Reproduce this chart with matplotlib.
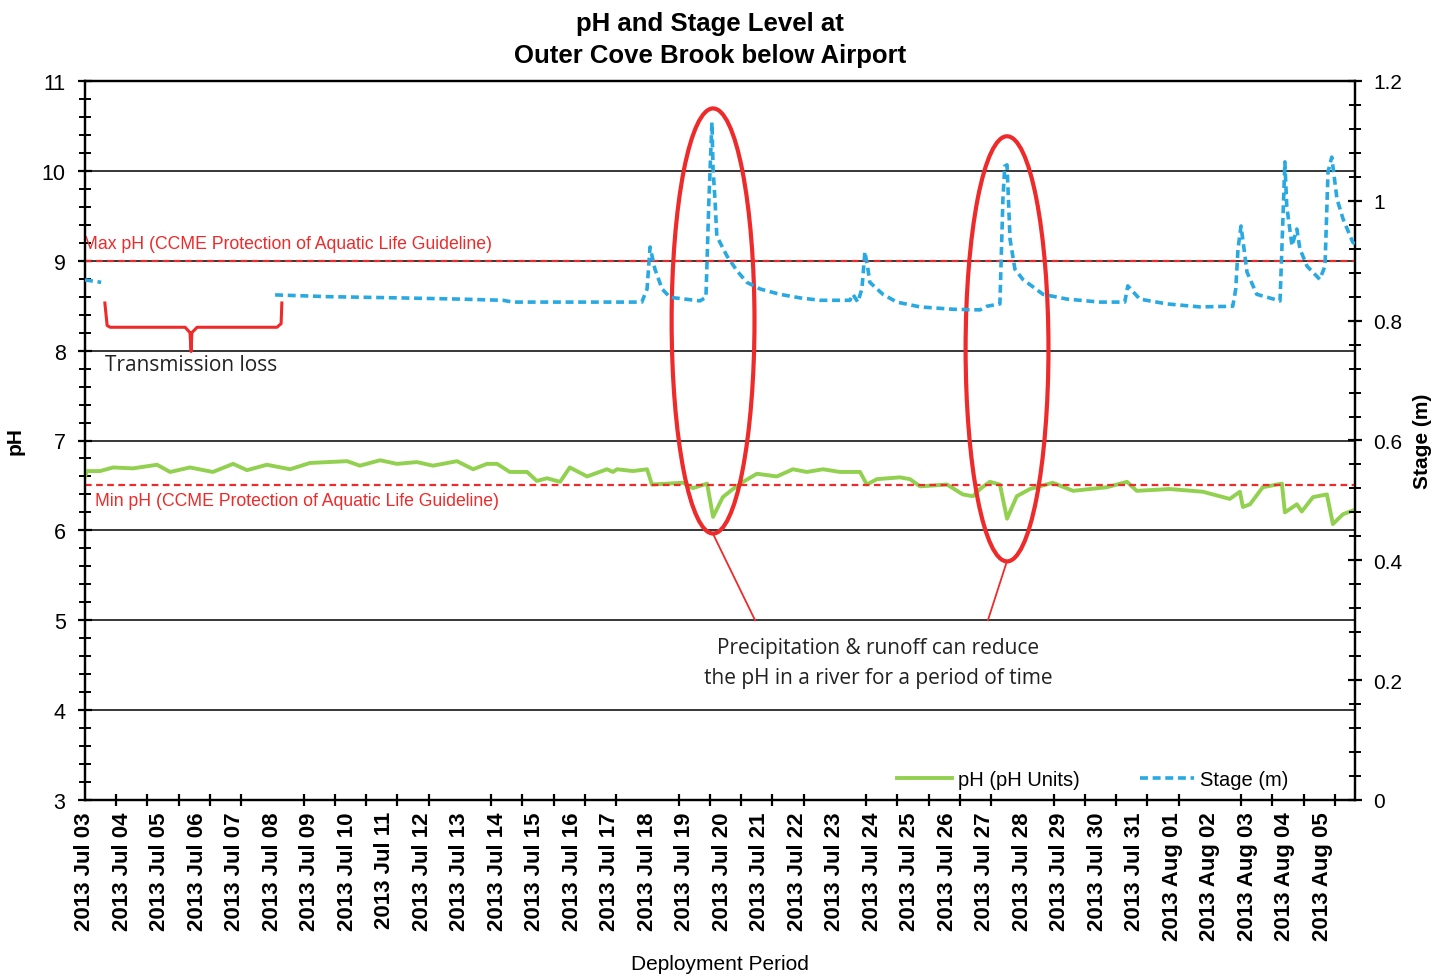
import matplotlib
matplotlib.use("Agg")
import matplotlib.pyplot as plt
import matplotlib.dates as mdates
from matplotlib.patches import Ellipse
from matplotlib.ticker import MultipleLocator
from datetime import datetime, timedelta
import numpy as np

plt.rcParams['font.family'] = ['Liberation Sans', 'DejaVu Sans']

start = datetime(2013, 7, 3)

# pH series: day offsets from 2013-07-03 00:00 and values
ph_days = [0, 0.05, 0.40, 0.75, 1.28, 1.92, 2.27, 2.80, 3.41, 3.95, 4.32, 4.85, 5.47, 6.00,
           6.99, 7.33, 7.87, 8.32, 8.85, 9.28, 9.92, 10.35, 10.72, 10.99, 11.33, 11.79, 12.05,
           12.32, 12.67, 12.93, 13.39, 13.92, 14.08, 14.19, 14.61, 14.99, 15.12, 15.95, 16.21,
           16.59, 16.75, 17.01, 17.28, 17.55, 17.92, 18.45, 18.88, 19.25, 19.68, 20.13, 20.67,
           20.85, 21.12, 21.73, 22.00, 22.27, 22.99, 23.41, 23.68, 23.87, 24.13, 24.40, 24.59,
           24.85, 25.20, 25.81, 26.35, 27.25, 27.79, 28.05, 28.93, 29.81, 30.53, 30.80, 30.88,
           31.07, 31.41, 31.92, 32.00, 32.32, 32.45, 32.75, 33.12, 33.28, 33.55, 33.87]
ph_values = [6.60, 6.66, 6.66, 6.70, 6.69, 6.73, 6.65, 6.70, 6.65, 6.74, 6.67, 6.73, 6.68, 6.75,
             6.77, 6.72, 6.78, 6.74, 6.76, 6.72, 6.77, 6.68, 6.74, 6.74, 6.65, 6.65, 6.55,
             6.58, 6.54, 6.70, 6.60, 6.68, 6.65, 6.68, 6.66, 6.68, 6.51, 6.53, 6.47,
             6.52, 6.15, 6.37, 6.46, 6.54, 6.63, 6.60, 6.68, 6.65, 6.68, 6.65, 6.65,
             6.51, 6.57, 6.59, 6.57, 6.49, 6.51, 6.40, 6.38, 6.46, 6.54, 6.51, 6.13,
             6.38, 6.46, 6.53, 6.44, 6.48, 6.54, 6.44, 6.46, 6.43, 6.35, 6.43, 6.26,
             6.29, 6.48, 6.52, 6.20, 6.29, 6.21, 6.37, 6.40, 6.07, 6.18, 6.23]

# Stage series (m); NaN marks the transmission loss gap
stage_days = [0, 0.43, 2.5, 5.07, 6.53, 8.40, 10.0, 11.15, 11.41, 14.85, 14.99, 15.07, 15.20,
              15.39, 15.60, 16.40, 16.56, 16.64, 16.72, 16.75, 16.80, 16.85, 17.12, 17.39,
              17.65, 18.00, 18.53, 19.07, 19.60, 20.40, 20.48, 20.61, 20.72, 20.80, 20.88,
              20.93, 21.28, 21.65, 22.27, 23.15, 23.87, 24.05, 24.40, 24.48, 24.53, 24.59,
              24.67, 24.80, 25.01, 25.55, 26.19, 27.07, 27.73, 27.81, 28.13, 28.85, 29.73,
              30.61, 30.69, 30.75, 30.83, 30.91, 30.99, 31.25, 31.87, 31.92, 32.00, 32.05,
              32.19, 32.32, 32.40, 32.59, 32.93, 33.07, 33.15, 33.25, 33.39, 33.55, 33.81, 33.87]
stage_values = [0.868, 0.864, np.nan, 0.843, 0.840, 0.838, 0.836, 0.834, 0.831, 0.831, 0.853,
                0.923, 0.886, 0.853, 0.839, 0.833, 0.839, 1.003, 1.131, 1.053, 1.003, 0.941,
                0.908, 0.883, 0.864, 0.853, 0.844, 0.838, 0.834, 0.834, 0.844, 0.831, 0.853,
                0.915, 0.886, 0.864, 0.844, 0.831, 0.823, 0.819, 0.818, 0.824, 0.828, 1.003,
                1.058, 1.060, 0.936, 0.886, 0.869, 0.844, 0.836, 0.831, 0.831, 0.858, 0.836,
                0.828, 0.823, 0.824, 0.853, 0.920, 0.958, 0.920, 0.881, 0.844, 0.833, 0.920,
                1.065, 0.991, 0.925, 0.953, 0.920, 0.891, 0.869, 0.891, 1.048, 1.073, 1.003,
                0.970, 0.931, 0.928]

ph_min_guideline = 6.5
ph_max_guideline = 9.0
x_end_days = 33.87

def to_dates(days):
    return [start + timedelta(days=float(d)) for d in days]

def dnum(d):
    return mdates.date2num(start + timedelta(days=float(d)))

green = '#92D050'
blue = '#29A9E1'
red = '#EE2A2A'

fig = plt.figure(figsize=(14.45, 9.79), dpi=100)
ax = fig.add_axes([85/1445, 1 - 801/979, (1355-85)/1445, (801-82)/979])
ax2 = ax.twinx()

ax.set_xlim(dnum(0), dnum(x_end_days))
ax.set_ylim(3, 11)
ax2.set_ylim(0, 1.2)

# grid lines
for v in range(4, 11):
    ax.axhline(v, color='black', lw=1.1, zorder=1)

ax.plot(to_dates(ph_days), ph_values, color=green, lw=2.8, zorder=3, label='pH (pH Units)')
ax2.plot(to_dates(stage_days), stage_values, color=blue, lw=2.6, ls=(0, (2.2, 1.3)),
         zorder=3, label='Stage (m)')

ax.axhline(ph_max_guideline, color=red, lw=1.6, ls=(0, (3, 2)), zorder=4)
ax.axhline(ph_min_guideline, color=red, lw=1.6, ls=(0, (3, 2)), zorder=4)

ax.text(dnum(-0.05), 9.1, 'Max pH (CCME Protection of Aquatic Life Guideline)', color=red,
        fontsize=12.7, ha='left', va='bottom', zorder=5)
ax.text(dnum(0.27), 6.33, 'Min pH (CCME Protection of Aquatic Life Guideline)', color=red,
        fontsize=12.7, ha='left', va='center', zorder=5)

# ellipses and pointer lines
for cx, cy in [(16.75, 8.33), (24.59, 8.02)]:
    e = Ellipse((dnum(cx), cy), width=2.21, height=4.73, fill=False, edgecolor=red, lw=3, zorder=6)
    ax.add_patch(e)
ax.plot([dnum(16.75), dnum(17.87)], [5.96, 5.0], color=red, lw=1.3, zorder=6)
ax.plot([dnum(24.59), dnum(24.08)], [5.66, 5.0], color=red, lw=1.3, zorder=6)

ax.text(dnum(21.15), 4.53, 'Precipitation & runoff can reduce\nthe pH in a river for a period of time',
        ha='center', va='center', fontsize=15, family=['Open Sans', 'DejaVu Sans'],
        linespacing=1.55, color='#222222', zorder=6)

# bracket for transmission loss
bx = [0.53, 0.59, 0.67, 2.67, 2.80, 2.83, 2.85, 2.99, 3.12, 5.12, 5.23, 5.25]
by = [8.53, 8.28, 8.26, 8.26, 8.20, 7.99, 8.20, 8.26, 8.26, 8.26, 8.30, 8.53]
ax.plot([dnum(v) for v in bx], by, color=red, lw=2.2, zorder=6, solid_joinstyle='round')
ax.text(dnum(0.53), 7.85, 'Transmission loss', fontsize=15, family=['Open Sans', 'DejaVu Sans'],
        ha='left', va='center', color='#222222', zorder=6)

# x ticks: labels at days, tick marks at 20 hour intervals
ax.xaxis.set_major_locator(mdates.DayLocator())
ax.xaxis.set_major_formatter(mdates.DateFormatter('%Y %b %d'))
minor_locs = [dnum(k * 20 / 24) for k in range(0, 41)]
ax.set_xticks(minor_locs, minor=True)
ax.tick_params(axis='x', which='major', length=0, labelsize=16, rotation=90, pad=8)
for lab in ax.get_xticklabels():
    lab.set_fontweight('bold')
ax.tick_params(axis='x', which='minor', length=8, width=1.6, direction='inout')

ax.yaxis.set_major_locator(MultipleLocator(1))
ax.yaxis.set_minor_locator(MultipleLocator(0.2))
ax.tick_params(axis='y', which='major', length=10, width=1.6, direction='inout', labelsize=15.5, pad=9)
ax.tick_params(axis='y', which='minor', length=8, width=1.4, direction='inout')

ax2.yaxis.set_major_locator(MultipleLocator(0.2))
ax2.yaxis.set_minor_locator(MultipleLocator(0.04))
ax2.set_yticks([0, 0.2, 0.4, 0.6, 0.8, 1.0, 1.2])
ax2.set_yticklabels(['0', '0.2', '0.4', '0.6', '0.8', '1', '1.2'])
ax2.tick_params(axis='y', which='major', length=10, width=1.6, direction='inout', labelsize=15, pad=8)
ax2.tick_params(axis='y', which='minor', length=8, width=1.4, direction='inout')

for a in (ax, ax2):
    for s in a.spines.values():
        s.set_linewidth(1.6)

ax.set_ylabel('pH', fontsize=15, fontweight='bold', labelpad=12)
ax2.set_ylabel('Stage (m)', fontsize=15, fontweight='bold', labelpad=8)
ax.set_xlabel('Deployment Period', fontsize=15, labelpad=10)

fig.suptitle('pH and Stage Level at\nOuter Cove Brook below Airport', fontsize=18.5,
             fontweight='bold', x=710/1445, y=0.988, va='top', linespacing=1.45)

h1, l1 = ax.get_legend_handles_labels()
h2, l2 = ax2.get_legend_handles_labels()
leg = ax2.legend(h1 + h2, l1 + l2, ncol=2, frameon=False, fontsize=14.5,
                 loc='lower right', bbox_to_anchor=(0.962, -0.01), handlelength=2.7,
                 columnspacing=3.0, handletextpad=0.3)

fig.savefig('out.png', dpi=100)
